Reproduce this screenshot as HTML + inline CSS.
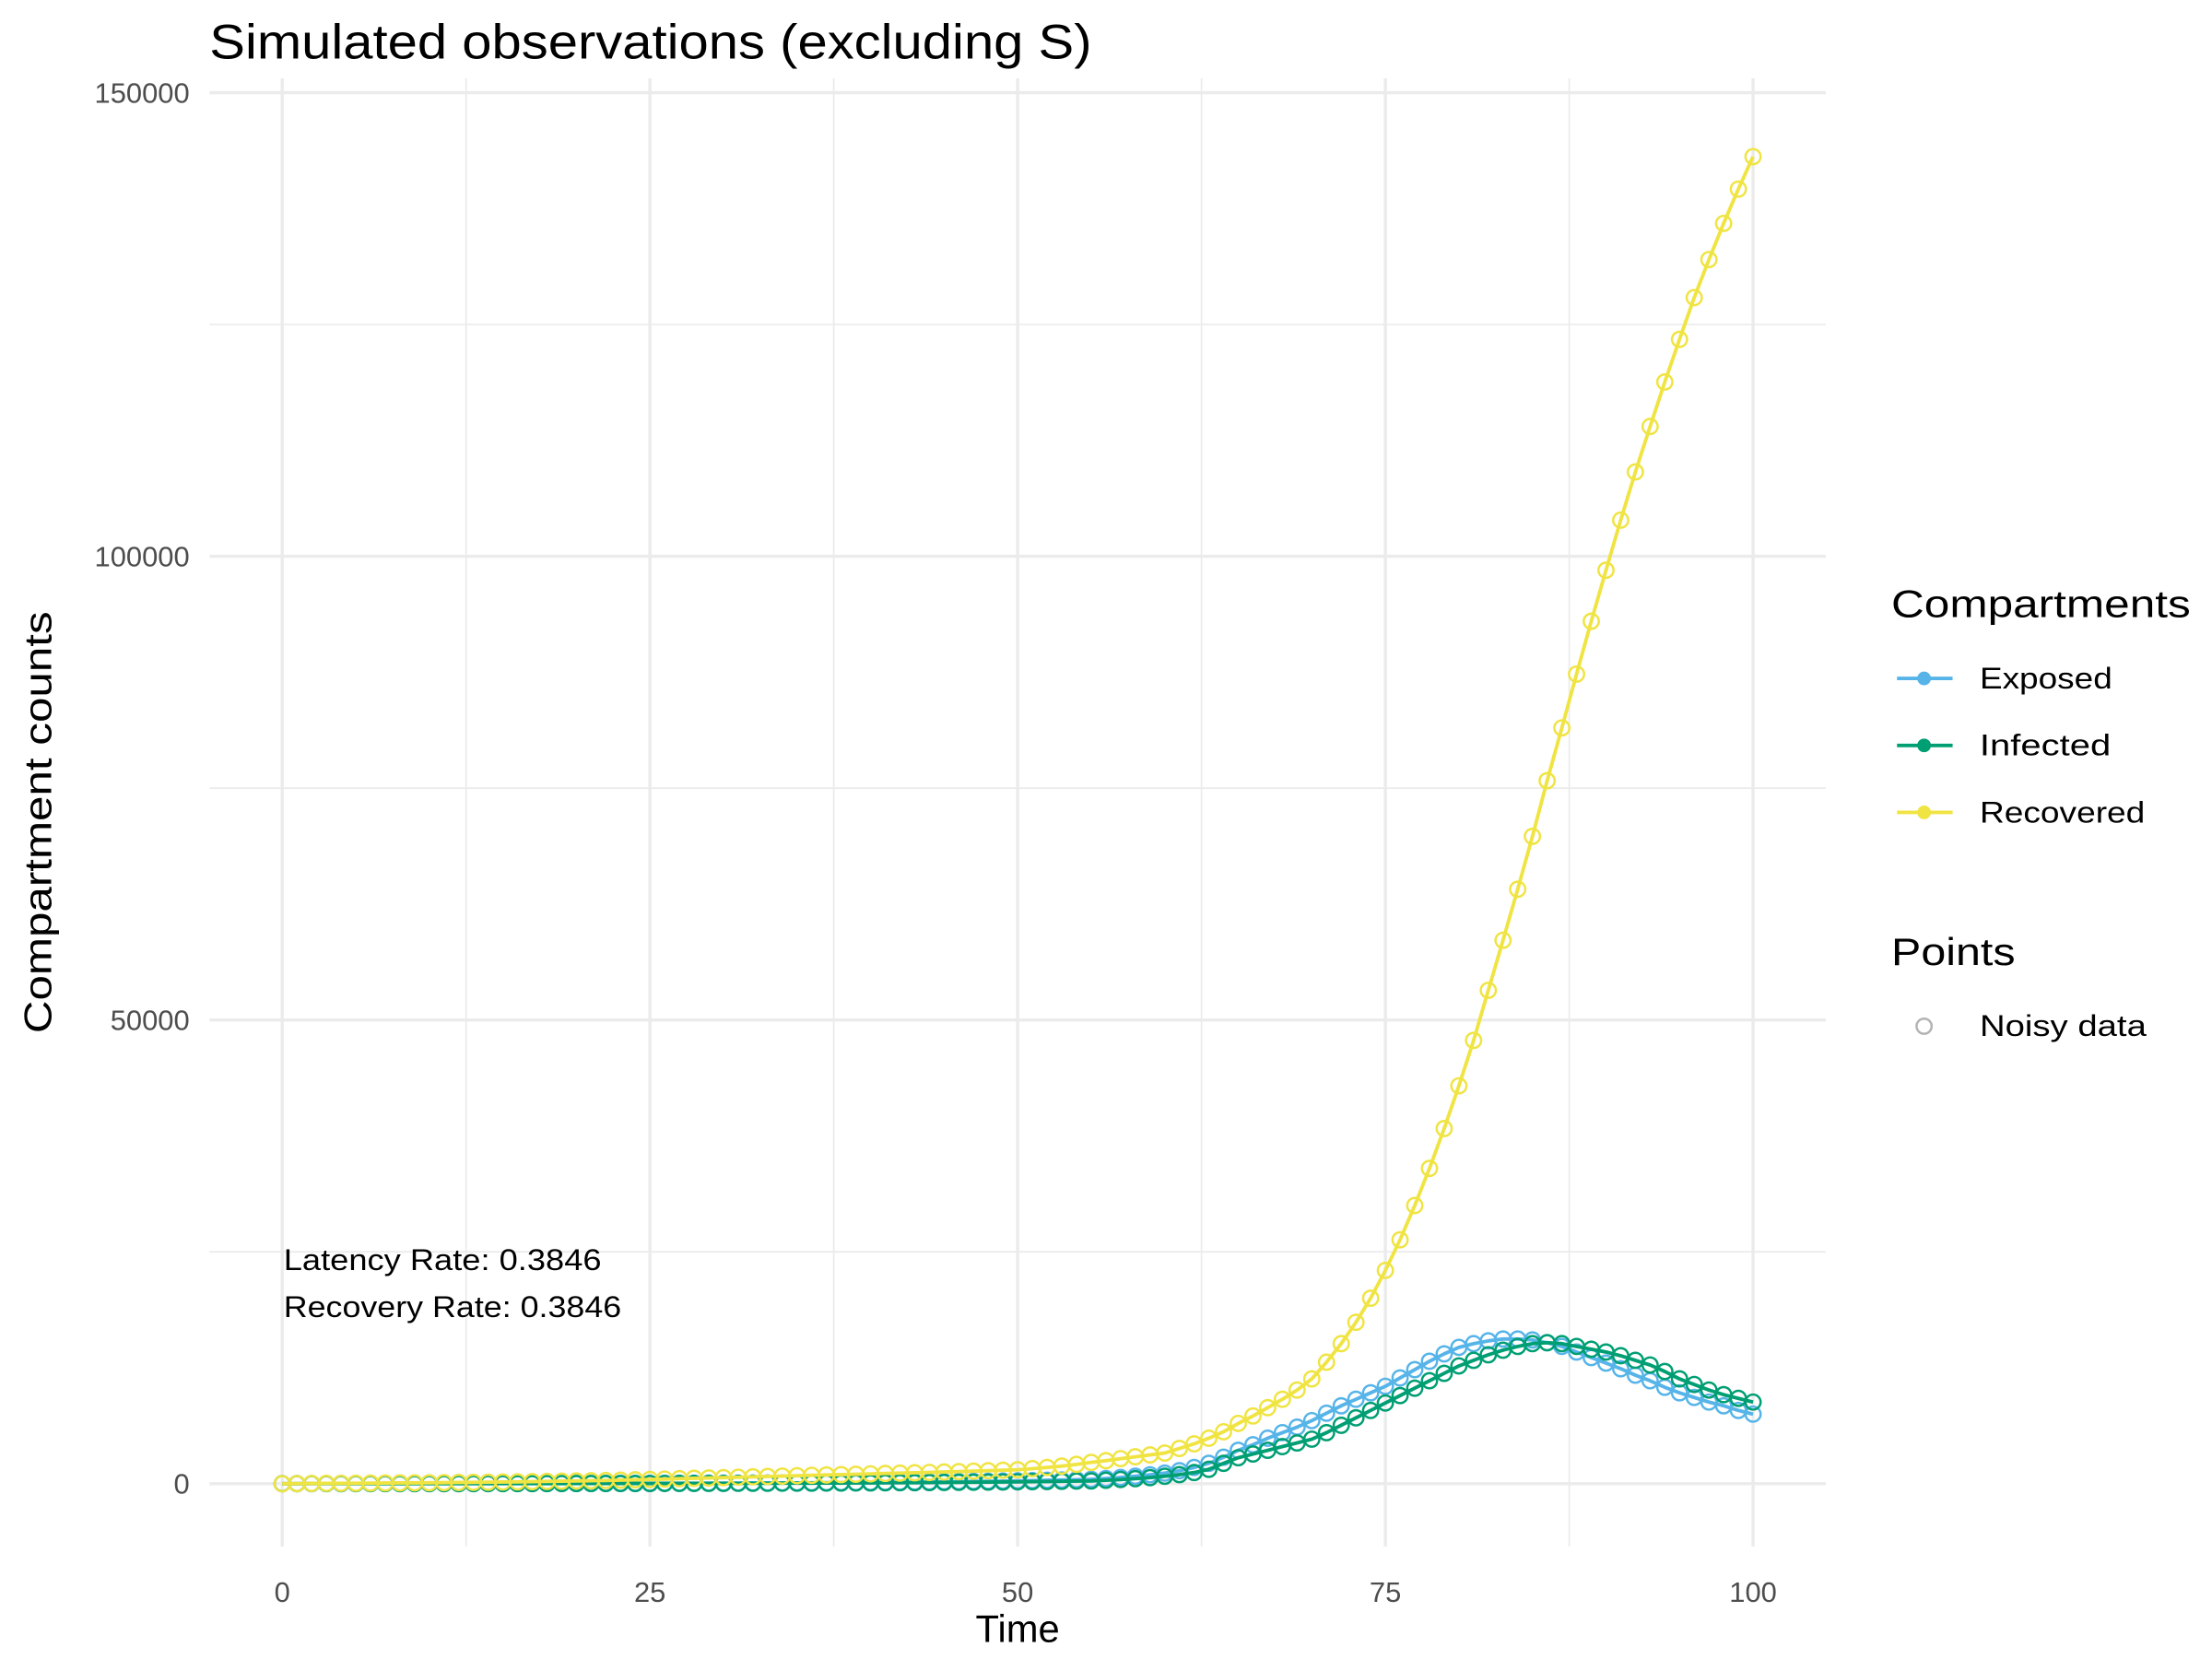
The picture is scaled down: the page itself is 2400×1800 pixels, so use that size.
<!DOCTYPE html>
<html><head><meta charset="utf-8"><style>
html,body{margin:0;padding:0;background:#fff}
svg{display:block}
text{font-family:"Liberation Sans","DejaVu Sans",sans-serif}
</style></head><body>
<svg id="chart" width="2400" height="1800" viewBox="0 0 1552 1164" xmlns="http://www.w3.org/2000/svg">
<rect width="1552" height="1164" fill="#fff"/>
<g id="grid"></g>
<g id="series"></g>
<text x="147" y="41" font-size="34" textLength="619" lengthAdjust="spacingAndGlyphs" fill="#000">Simulated observations (excluding S)</text>
<g id="yticks"></g>
<g id="xticks"></g>
<text x="714" y="1152" font-size="27" text-anchor="middle">Time</text>
<text transform="translate(36,577) rotate(-90)" font-size="27" text-anchor="middle" textLength="296" lengthAdjust="spacingAndGlyphs">Compartment counts</text>
<text x="199" y="891" font-size="21" textLength="223" lengthAdjust="spacingAndGlyphs">Latency Rate: 0.3846</text>
<text x="199" y="924" font-size="21" textLength="237" lengthAdjust="spacingAndGlyphs">Recovery Rate: 0.3846</text>
<g>
<text x="1327" y="433" font-size="27" textLength="210" lengthAdjust="spacingAndGlyphs">Compartments</text>
<g><line x1="1331" y1="476" x2="1370" y2="476" stroke="#56B4E9" stroke-width="2.5"/><circle cx="1350" cy="476" r="4.8" fill="#56B4E9"/><text x="1389" y="483" font-size="21" textLength="93" lengthAdjust="spacingAndGlyphs">Exposed</text></g>
<g><line x1="1331" y1="523" x2="1370" y2="523" stroke="#009E73" stroke-width="2.5"/><circle cx="1350" cy="523" r="4.8" fill="#009E73"/><text x="1389" y="530" font-size="21" textLength="92" lengthAdjust="spacingAndGlyphs">Infected</text></g>
<g><line x1="1331" y1="570" x2="1370" y2="570" stroke="#F0E442" stroke-width="2.5"/><circle cx="1350" cy="570" r="4.8" fill="#F0E442"/><text x="1389" y="577" font-size="21" textLength="116" lengthAdjust="spacingAndGlyphs">Recovered</text></g>
<text x="1327" y="677" font-size="27" textLength="87" lengthAdjust="spacingAndGlyphs">Points</text>
<g><circle cx="1350" cy="720" r="5.3" fill="none" stroke="#b3b3b3" stroke-width="1.6"/><text x="1389" y="727" font-size="21" textLength="117" lengthAdjust="spacingAndGlyphs">Noisy data</text></g>
</g>
</svg>
<script>
const exposed=[5,5,6,6,7,8,8,9,10,11,12,13,14,15,16,18,19,21,23,25,27,29,31,34,37,40,43,47,51,55,60,65,71,77,83,90,98,106,116,126,136,148,161,174,189,206,223,243,263,286,310,337,366,397,431,470,560,670,800,960,1140,1400,1750,2200,2850,3600,4200,4900,5500,6100,6800,7600,8400,9100,9800,10500,11400,12300,13200,14000,14700,15100,15400,15600,15600,15500,15200,14800,14200,13600,13000,12400,11700,11100,10400,9800,9300,8800,8400,7900,7500];
const infected=[3,3,4,4,5,5,5,6,7,7,8,8,9,10,10,12,12,14,15,16,18,19,20,22,24,26,28,31,33,36,39,42,46,50,54,59,64,69,75,82,88,96,105,113,123,134,145,158,171,186,202,219,238,258,280,300,370,450,540,660,800,980,1200,1550,2200,2800,3200,3600,4000,4400,4800,5500,6300,7100,7900,8700,9500,10300,11100,11900,12700,13300,13900,14400,14800,15100,15200,15100,14800,14500,14200,13800,13300,12800,12100,11300,10700,10100,9600,9200,8800];
const recovered=[0,10,20,30,40,50,60,70,80,90,100,115,130,145,160,180,200,220,245,270,295,320,350,380,420,460,500,540,580,620,660,700,740,780,820,860,900,940,980,1020,1060,1100,1140,1180,1220,1260,1300,1350,1400,1450,1500,1620,1750,1900,2080,2300,2480,2700,2900,3100,3300,3800,4300,4900,5600,6500,7300,8200,9100,10100,11300,13100,15100,17400,20000,23000,26300,30000,34000,38300,42900,47800,53200,58600,64100,69800,75800,81500,87300,93000,98500,103900,109100,114000,118800,123400,127900,132000,135900,139600,143100];
const xTicks=[0,25,50,75,100];
const yTicks=[0,50000,100000,150000];
const NS="http://www.w3.org/2000/svg";
const X=v=>198+(1230-198)*v/100;
const Y=v=>1041-(1041-65)*v/150000;
function mk(tag,attrs,parent){const e=document.createElementNS(NS,tag);for(const k in attrs)e.setAttribute(k,attrs[k]);parent.appendChild(e);return e;}
const grid=document.getElementById('grid');
const P={x0:147,x1:1281,y0:55,y1:1085};
for(let i=0;i<xTicks.length;i++){
  const l=mk('line',{x1:X(xTicks[i]),x2:X(xTicks[i]),y1:P.y0,y2:P.y1,stroke:'#ebebeb','stroke-width':2.2},grid);
  
  
  if(i<xTicks.length-1){const m=(xTicks[i]+xTicks[i+1])/2;
    const ml=mk('line',{x1:X(m),x2:X(m),y1:P.y0,y2:P.y1,stroke:'#ebebeb','stroke-width':1.1},grid);
    
    }
}
for(let i=0;i<yTicks.length;i++){
  const l=mk('line',{x1:P.x0,x2:P.x1,y1:Y(yTicks[i]),y2:Y(yTicks[i]),stroke:'#ebebeb','stroke-width':2.2},grid);
  
  
  if(i<yTicks.length-1){const m=(yTicks[i]+yTicks[i+1])/2;
    const ml=mk('line',{x1:P.x0,x2:P.x1,y1:Y(m),y2:Y(m),stroke:'#ebebeb','stroke-width':1.1},grid);
    
    }
}
const yt=document.getElementById('yticks');
yTicks.forEach(v=>{const t=mk('text',{x:133,y:Y(v)+7,'font-size':20,fill:'#4d4d4d','text-anchor':'end'},yt);t.textContent=String(v);
  
  });
const xt=document.getElementById('xticks');
xTicks.forEach(v=>{const t=mk('text',{x:X(v),y:1124,'font-size':20,fill:'#4d4d4d','text-anchor':'middle'},xt);t.textContent=String(v);
  
  });
const sg=document.getElementById('series');
const defs=[['exposed',exposed,'#56B4E9'],['infected',infected,'#009E73'],['recovered',recovered,'#F0E442']];
defs.forEach(([name,arr,col])=>{
  const g=mk('g',{},sg);
  
  
  const pts=arr.map((v,i)=>X(i).toFixed(2)+','+Y(v).toFixed(2)).join(' ');
  const pl=mk('polyline',{points:pts,fill:'none',stroke:col,'stroke-width':2.5,'stroke-linejoin':'round'},g);
  
  
  arr.forEach((v,i)=>{const c=mk('circle',{cx:X(i),cy:Y(v),r:5.3,fill:'none',stroke:col,'stroke-width':1.6},g);
    
    });
});
</script>
</body></html>
